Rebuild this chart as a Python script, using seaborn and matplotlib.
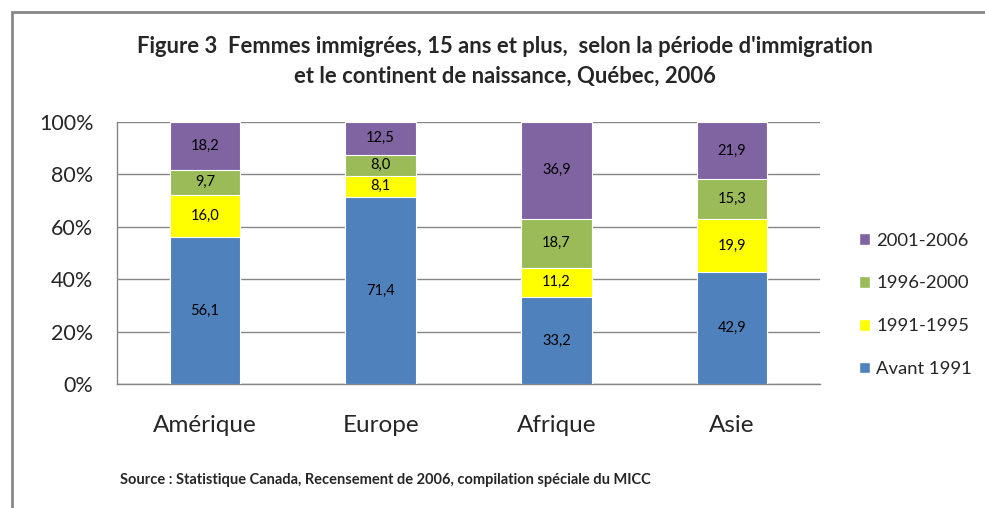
import numpy as np
import pandas as pd
import matplotlib
matplotlib.use("Agg")
import matplotlib.pyplot as plt
import seaborn as sns
from matplotlib.patches import Rectangle, Patch

# Data (percentages)
continents = ["Amérique", "Europe", "Afrique", "Asie"]
periods = ["Avant 1991", "1991-1995", "1996-2000", "2001-2006"]
avant_1991 = [56.1, 71.4, 33.2, 42.9]
p_1991_1995 = [16.0, 8.1, 11.2, 19.9]
p_1996_2000 = [9.7, 8.0, 18.7, 15.3]
p_2001_2006 = [18.2, 12.5, 36.9, 21.9]
colors = ["#4F81BD", "#FFFF00", "#9BBB59", "#8064A2"]

sns.set_style("white")
plt.rcParams["font.family"] = ["Lato", "DejaVu Sans"]

values = np.array([avant_1991, p_1991_1995, p_1996_2000, p_2001_2006])
tops = values.cumsum(axis=0)

fig = plt.figure(figsize=(9.85, 5.08), dpi=100)
ax = fig.add_axes([0.1188, 0.244, 0.7137, 0.516])

# stacked bars: draw cumulative totals from the top segment down
for i in range(len(periods) - 1, -1, -1):
    df = pd.DataFrame({"continent": continents, "value": tops[i]})
    sns.barplot(data=df, x="continent", y="value", color=colors[i], width=0.4,
                edgecolor="white", linewidth=0.8, saturation=1, ax=ax, zorder=3)

for i in range(len(periods)):
    for j in range(len(continents)):
        mid = tops[i][j] - values[i][j] / 2
        ax.text(j, mid, f"{values[i][j]:.1f}".replace(".", ","), ha="center",
                va="center", fontsize=10.5, color="black", zorder=4)

ax.set_ylim(0, 100)
ax.set_xlim(-0.5, 3.5)
ax.set_yticks(np.arange(0, 101, 20))
ax.set_yticklabels([f"{v}%" for v in range(0, 101, 20)], fontsize=15.5)
ax.yaxis.grid(True, color="#868686", linewidth=1, zorder=0)
ax.set_axisbelow(True)
ax.set_xlabel("")
ax.set_ylabel("")
ax.tick_params(axis="x", labelsize=17.5, length=0, pad=22)
ax.set_xticks(np.arange(-0.5, 4, 1), minor=True)
ax.tick_params(axis="x", which="minor", length=7, color="#868686", width=1, direction="out")
ax.tick_params(axis="y", length=8, color="#868686", width=1, direction="out", pad=9)
for s in ["top", "right"]:
    ax.spines[s].set_visible(False)
for s in ["left", "bottom"]:
    ax.spines[s].set_color("#868686")
    ax.spines[s].set_linewidth(1)

handles = [Patch(facecolor=colors[i], label=periods[i]) for i in range(len(periods) - 1, -1, -1)]
fig.legend(handles=handles, loc="center left", bbox_to_anchor=(0.855, 0.40), frameon=False,
           fontsize=13.3, handlelength=0.6, handleheight=0.6, handletextpad=0.35, labelspacing=1.45)

fig.text(0.513, 0.908, "Figure 3  Femmes immigrées, 15 ans et plus,  selon la période d'immigration",
         ha="center", va="center", fontsize=15.8, fontweight="bold")
fig.text(0.513, 0.85, "et le continent de naissance, Québec, 2006",
         ha="center", va="center", fontsize=15.8, fontweight="bold")
fig.text(0.122, 0.055, "Source : Statistique Canada, Recensement de 2006, compilation spéciale du MICC",
         ha="left", va="center", fontsize=10.5, fontweight="bold")

# outer frame
fig.patches.append(Rectangle((12 / 985, -0.05), 1.0, 1 - 12 / 508 + 0.05, transform=fig.transFigure,
                             fill=False, edgecolor="#888888", linewidth=2))

fig.savefig("out.png", dpi=100)
